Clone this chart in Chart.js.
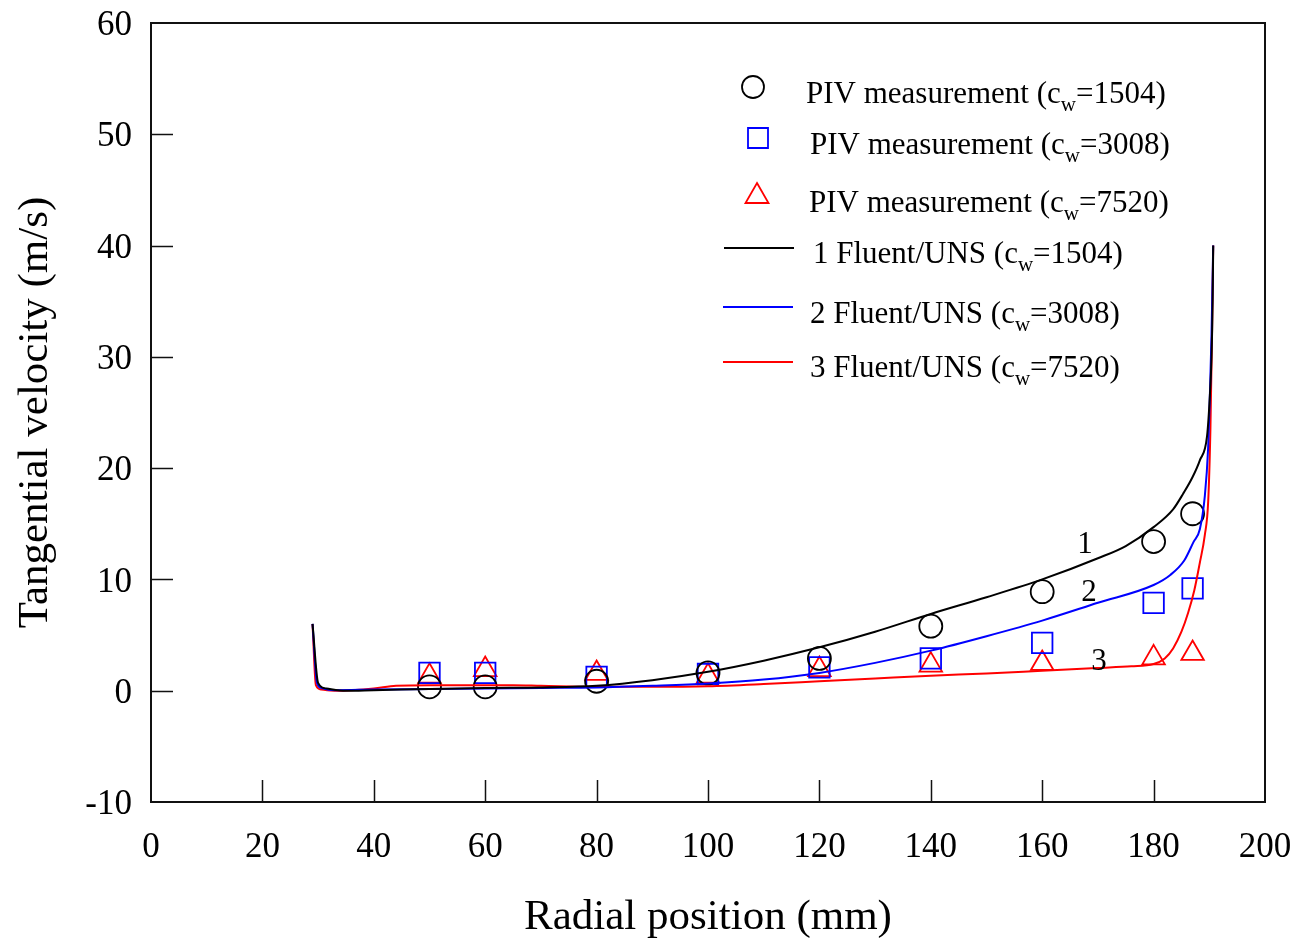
<!DOCTYPE html>
<html>
<head>
<meta charset="utf-8">
<title>Tangential velocity</title>
<script src="https://cdn.jsdelivr.net/npm/chart.js@4.4.1/dist/chart.umd.min.js"></script>
<style>
    body { margin: 0; background: #fff; }
    #wrap { width: 1298px; height: 940px; }
</style>
</head>
<body>
<div id="wrap"><canvas id="velChart" width="1298" height="940"></canvas></div>
<script>
// PIV measurement points (radial position mm, tangential velocity m/s)
const pivX = [50, 60, 80, 100, 120, 140, 160, 180, 187];
const piv1504 = [0.35, 0.35, 0.85, 1.6, 2.9, 5.8, 8.9, 13.4, 15.9];
const piv3008 = [1.6, 1.6, 1.25, 1.5, 2.1, 2.9, 4.3, 7.9, 9.2];
const piv7520 = [1.3, 1.9, 1.55, 1.3, 1.9, 2.3, 2.45, 2.95, 3.35];

// Fluent/UNS profiles
const fluentX1 = [29, 30, 31.5, 35, 40, 50, 60, 70, 80, 90, 100, 110, 120, 130, 140, 150, 160, 170, 175, 180, 183.5, 185.3, 187, 188.3, 189.6, 190.1, 190.4, 190.6, 190.7];
const fluentV1 = [6.0, 0.7, 0.2, 0.0, 0.05, 0.15, 0.25, 0.3, 0.45, 0.95, 1.7, 2.7, 3.9, 5.3, 6.9, 8.4, 10.0, 11.9, 13.0, 14.7, 16.3, 17.7, 19.2, 20.7, 22.9, 26.5, 30, 35, 40];

const fluentX2 = [29, 29.8, 30.6, 33, 40, 50, 60, 70, 80, 90, 100, 110, 120, 130, 140, 150, 160, 170, 180, 183, 185.5, 187.2, 188.3, 189.2, 189.8, 190.1, 190.4, 190.7];
const fluentV2 = [6.0, 0.7, 0.25, 0.05, 0.1, 0.15, 0.2, 0.25, 0.3, 0.45, 0.65, 1.0, 1.6, 2.5, 3.6, 4.9, 6.3, 7.9, 9.5, 10.4, 11.7, 13.4, 14.5, 17.5, 21.9, 26.5, 32, 40];

const fluentX3 = [29, 29.6, 30.6, 33, 36, 40, 44, 50, 60, 65, 70, 80, 90, 100, 110, 120, 130, 140, 150, 160, 170, 176, 180, 182, 183.5, 185, 186.2, 187.3, 188.3, 189.2, 189.8, 190.2, 190.5, 190.7];
const fluentV3 = [6.0, 0.5, 0.1, 0.0, 0.05, 0.2, 0.45, 0.5, 0.5, 0.5, 0.45, 0.35, 0.35, 0.4, 0.6, 0.85, 1.1, 1.35, 1.55, 1.8, 2.05, 2.2, 2.4, 2.9, 3.8, 5.3, 7.0, 9.0, 11.5, 14.0, 17.0, 23.5, 32.5, 40];

// curve number labels: [text, x, v]
const curveTags = [['1', 167.7, 13.3], ['2', 168.4, 9.0], ['3', 170.2, 2.8]];

const xTicks = [0, 20, 40, 60, 80, 100, 120, 140, 160, 180, 200];
const yTicks = [-10, 0, 10, 20, 30, 40, 50, 60];

const SERIF = '"Liberation Serif", "Times New Roman", serif';

function toPoints(xs, ys) {
    return xs.map((x, i) => ({ x: x, y: ys[i] }));
}

// tick labels may overhang the plot box, so drop the extra padding they ask for
function fixedBox(prop, size) {
    return s => {
        s[prop] = size;
        s.paddingTop = 0;
        s.paddingBottom = 0;
        s.paddingLeft = 0;
        s.paddingRight = 0;
    };
}

// frame, inward ticks, curve numbers and legend
const decorPlugin = {
    id: 'decor',
    afterDraw(chart) {
        const ctx = chart.ctx;
        const area = chart.chartArea;
        const xs = chart.scales.x;
        const ys = chart.scales.y;
        ctx.save();

        ctx.strokeStyle = '#111';
        ctx.lineWidth = 2;
        ctx.strokeRect(area.left, area.top, area.right - area.left, area.bottom - area.top);

        ctx.lineWidth = 1.5;
        ctx.beginPath();
        xTicks.slice(1, -1).forEach(v => {
            const px = Math.round(xs.getPixelForValue(v)) + 0.5;
            ctx.moveTo(px, area.bottom);
            ctx.lineTo(px, area.bottom - 22);
        });
        yTicks.slice(1, -1).forEach(v => {
            const py = Math.round(ys.getPixelForValue(v)) + 0.5;
            ctx.moveTo(area.left, py);
            ctx.lineTo(area.left + 22, py);
        });
        ctx.stroke();

        ctx.fillStyle = '#000';
        ctx.font = '31px ' + SERIF;
        ctx.textAlign = 'center';
        ctx.textBaseline = 'middle';
        curveTags.forEach(t => {
            ctx.fillText(t[0], xs.getPixelForValue(t[1]), ys.getPixelForValue(t[2]) + 2);
        });

        drawLegend(ctx);
        ctx.restore();
    }
};

const legendRows = [
    { kind: 'circle', color: '#000', pre: 'PIV measurement (c', post: '=1504)', tx: 806, base: 103, mx: 753, my: 87 },
    { kind: 'rect', color: '#0000ff', pre: 'PIV measurement (c', post: '=3008)', tx: 810, base: 154, mx: 758, my: 138 },
    { kind: 'triangle', color: '#ff0000', pre: 'PIV measurement (c', post: '=7520)', tx: 809, base: 212, mx: 757, my: 196 },
    { kind: 'line', color: '#000', pre: '1 Fluent/UNS (c', post: '=1504)', tx: 813, base: 263, mx: 759, my: 248 },
    { kind: 'line', color: '#0000ff', pre: '2 Fluent/UNS (c', post: '=3008)', tx: 810, base: 323, mx: 758, my: 307 },
    { kind: 'line', color: '#ff0000', pre: '3 Fluent/UNS (c', post: '=7520)', tx: 810, base: 377, mx: 758, my: 362 }
];

function drawLegend(ctx) {
    legendRows.forEach(r => {
        ctx.strokeStyle = r.color;
        ctx.lineWidth = 1.8;
        ctx.beginPath();
        if (r.kind === 'circle') {
            ctx.arc(r.mx, r.my, 11, 0, Math.PI * 2);
        } else if (r.kind === 'rect') {
            ctx.rect(r.mx - 10, r.my - 10, 20, 20);
        } else if (r.kind === 'triangle') {
            ctx.moveTo(r.mx, r.my - 13);
            ctx.lineTo(r.mx + 11.5, r.my + 7);
            ctx.lineTo(r.mx - 11.5, r.my + 7);
            ctx.closePath();
        } else {
            ctx.moveTo(r.mx - 35, r.my);
            ctx.lineTo(r.mx + 35, r.my);
        }
        ctx.stroke();

        ctx.fillStyle = '#000';
        ctx.textAlign = 'left';
        ctx.textBaseline = 'alphabetic';
        ctx.font = '31px ' + SERIF;
        let x = r.tx;
        ctx.fillText(r.pre, x, r.base);
        x += ctx.measureText(r.pre).width;
        ctx.font = '21px ' + SERIF;
        ctx.fillText('w', x, r.base + 8);
        x += ctx.measureText('w').width;
        ctx.font = '31px ' + SERIF;
        ctx.fillText(r.post, x, r.base);
    });
}

const markerStyle = (style, color, radius) => ({
    showLine: false,
    pointStyle: style,
    pointRadius: radius,
    pointBorderWidth: 1.8,
    borderColor: color,
    backgroundColor: 'rgba(0,0,0,0)',
    pointBackgroundColor: 'rgba(0,0,0,0)'
});

const lineStyle = (color) => ({
    showLine: true,
    borderColor: color,
    borderWidth: 2,
    pointRadius: 0,
    fill: false,
    cubicInterpolationMode: 'monotone'
});

const ctx = document.getElementById('velChart').getContext('2d');
new Chart(ctx, {
    type: 'scatter',
    data: {
        datasets: [
            Object.assign({ label: 'Fluent/UNS 1504', data: toPoints(fluentX1, fluentV1) }, lineStyle('#000000')),
            Object.assign({ label: 'Fluent/UNS 3008', data: toPoints(fluentX2, fluentV2) }, lineStyle('#0000ff')),
            Object.assign({ label: 'Fluent/UNS 7520', data: toPoints(fluentX3, fluentV3) }, lineStyle('#ff0000')),
            Object.assign({ label: 'PIV 1504', data: toPoints(pivX, piv1504) }, markerStyle('circle', '#000000', 11.5)),
            Object.assign({ label: 'PIV 3008', data: toPoints(pivX, piv3008) }, markerStyle('rect', '#0000ff', 14.5)),
            Object.assign({ label: 'PIV 7520', data: toPoints(pivX, piv7520) }, markerStyle('triangle', '#ff0000', 13))
        ]
    },
    options: {
        responsive: false,
        animation: false,
        layout: { padding: { top: 23, right: 33, left: 0, bottom: 0 } },
        plugins: {
            legend: { display: false },
            tooltip: { enabled: false }
        },
        scales: {
            x: {
                type: 'linear',
                min: 0,
                max: 200,
                afterBuildTicks: s => { s.ticks = xTicks.map(v => ({ value: v })); },
                afterFit: fixedBox('height', 138),
                grid: { display: false, drawTicks: false, tickLength: 0 },
                border: { display: false },
                ticks: {
                    color: '#000',
                    padding: 25,
                    maxRotation: 0,
                    font: { family: SERIF, size: 35 }
                },
                title: {
                    display: true,
                    text: 'Radial position (mm)',
                    color: '#000',
                    font: { family: SERIF, size: 43, lineHeight: 1 },
                    padding: { top: 0, bottom: 1 }
                }
            },
            y: {
                type: 'linear',
                min: -10,
                max: 60,
                afterBuildTicks: s => { s.ticks = yTicks.map(v => ({ value: v })); },
                afterFit: fixedBox('width', 151),
                grid: { display: false, drawTicks: false, tickLength: 0 },
                border: { display: false },
                ticks: {
                    color: '#000',
                    padding: 19,
                    labelOffset: 3,
                    font: { family: SERIF, size: 35 }
                },
                title: {
                    display: true,
                    text: 'Tangential velocity (m/s)',
                    color: '#000',
                    font: { family: SERIF, size: 43, lineHeight: 1 },
                    padding: { top: 14, bottom: 0 }
                }
            }
        }
    },
    plugins: [decorPlugin]
});
</script>
</body>
</html>
